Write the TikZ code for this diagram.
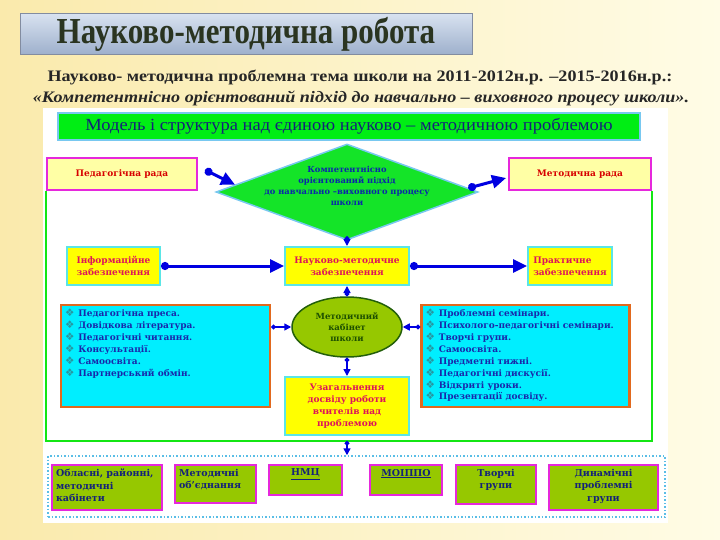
\documentclass[tikz,border=0pt]{standalone}
\usepackage{fontspec}
\usepackage{graphicx}
\setmainfont{Liberation Serif}
\newfontfamily\boxfont{DejaVu Serif}
\newfontfamily\symfont{DejaVu Sans}
\usetikzlibrary{shapes.geometric, arrows.meta, positioning, calc}

\definecolor{bgleft}{RGB}{250,234,172}
\definecolor{bgright}{RGB}{255,252,230}
\definecolor{titletop}{RGB}{216,226,240}
\definecolor{titlebot}{RGB}{158,176,204}
\definecolor{titleline}{RGB}{130,140,160}
\definecolor{titletext}{RGB}{42,52,32}
\definecolor{bannergreen}{RGB}{0,238,20}
\definecolor{bannerline}{RGB}{120,200,240}
\definecolor{navy}{RGB}{20,35,120}
\definecolor{paleyellow}{RGB}{255,255,165}
\definecolor{councilred}{RGB}{215,0,0}
\definecolor{pinkline}{RGB}{230,40,220}
\definecolor{diagreen}{RGB}{20,228,40}
\definecolor{diablue}{RGB}{10,40,170}
\definecolor{arrblue}{RGB}{0,0,225}
\definecolor{boxyellow}{RGB}{255,255,0}
\definecolor{boxcyan}{RGB}{90,230,230}
\definecolor{crimson}{RGB}{220,20,90}
\definecolor{listcyan}{RGB}{0,238,255}
\definecolor{listorange}{RGB}{225,105,30}
\definecolor{listblue}{RGB}{25,40,170}
\definecolor{bulletteal}{RGB}{40,150,160}
\definecolor{cabgreen}{RGB}{150,200,0}
\definecolor{cabline}{RGB}{35,95,10}
\definecolor{cabtext}{RGB}{30,80,0}
\definecolor{framegreen}{RGB}{20,230,20}
\definecolor{dotcyan}{RGB}{90,190,230}

\newcommand{\topbox}[3]{\parbox[c][#2][t]{#1}{#3}}
\newcommand{\bul}{{\symfont\fontsize{10.5}{10}\selectfont\textcolor{bulletteal}{❖}}\hspace{4pt}}

\tikzset{
  titlebox/.style={draw=titleline, top color=titletop, bottom color=titlebot,
    minimum width=452pt, minimum height=40pt, text=titletext,
    font=\bfseries\fontsize{31}{31}\selectfont},
  subline/.style={text=black!85, font=\bfseries\fontsize{16}{16}\selectfont, inner sep=0pt},
  banner/.style={draw=bannerline, line width=1.5pt, fill=bannergreen, text=navy,
    minimum width=582pt, minimum height=27pt, font=\fontsize{17}{17}\selectfont},
  council/.style={draw=pinkline, line width=2pt, fill=paleyellow, text=councilred,
    minimum width=150pt, minimum height=32pt, font=\boxfont\bfseries\fontsize{9}{10}\selectfont},
  dia/.style={diamond, draw=bannerline, line width=1.5pt, fill=diagreen,
    text=diablue, minimum width=262pt, minimum height=96pt, inner sep=0pt,
    font=\boxfont\bfseries\fontsize{8.3}{11}\selectfont},
  support/.style={draw=boxcyan, line width=2pt, fill=boxyellow, text=crimson,
    minimum height=38pt, align=center, font=\boxfont\bfseries\fontsize{9}{12}\selectfont},
  listbox/.style={draw=listorange, line width=2.5pt, fill=listcyan, text=listblue,
    inner sep=4pt, font=\boxfont\bfseries\fontsize{9}{11.9}\selectfont},
  cabinet/.style={ellipse, draw=cabline, line width=1.5pt, fill=cabgreen, text=cabtext,
    minimum width=110pt, minimum height=60pt, inner sep=0pt, align=center,
    font=\boxfont\bfseries\fontsize{8.5}{11}\selectfont},
  basebox/.style={draw=pinkline, line width=2pt, fill=cabgreen, text=navy, anchor=north,
    inner sep=4pt, font=\boxfont\bfseries\fontsize{9.5}{12.5}\selectfont},
  basefr/.style={draw=dotcyan, line width=1.5pt, dotted, minimum width=617pt, minimum height=61pt},
  frame/.style={draw=framegreen, line width=1.8pt},
  bigarr/.style={draw=arrblue, line width=3pt, {Circle[length=8pt]}-{Triangle[length=14pt,width=13pt]}},
  smallarr/.style={draw=arrblue, line width=1.5pt, {Circle[length=4.5pt]}-{Triangle[length=7pt,width=7pt]}}
}

\begin{document}
\begin{tikzpicture}[x=1pt,y=-1pt]
\useasboundingbox (0,0) rectangle (720,540);
% background
\shade[left color=bgleft, right color=bgright] (0,0) rectangle (720,540);
\fill[white] (43,108) rectangle (668,523);

% heading
\node[titlebox] (title) at (246,34) {\scalebox{1}[1.18]{Науково-методична робота}};
\node[subline] (theme) at (360,78) {\scalebox{1.13}[1]{Науково- методична проблемна тема школи на 2011-2012н.р. –2015-2016н.р.:}};
\node[subline, font=\bfseries\itshape\fontsize{16}{16}\selectfont] (idea) at (361,98)
  {\scalebox{1.13}[1]{«Компетентнісно орієнтований підхід до навчально – виховного процесу школи».}};

% model
\node[banner] (banner) at (349,126.5) {\scalebox{1.09}[1]{Модель і структура над єдиною науково – методичною проблемою}};
\node[council] (ped) at (122,174) {Педагогічна рада};
\node[council, minimum width=142pt] (met) at (580,174) {Методична рада};
\node[dia] (dia) at (347,192) {\smash{\makebox[0pt]{\raisebox{4pt}{\parbox[c]{170pt}{\centering Компетентнісно\\орієнтований підхід\\до навчально –виховного процесу\\школи}}}}};

\node[support, minimum width=93pt, align=left] (info) at (113.5,266) {Інформаційне\\забезпечення};
\node[support, minimum width=124pt] (nm) at (347,266) {Науково-методичне\\забезпечення};
\node[support, minimum width=84pt, align=left] (prak) at (570,266) {Практичне\\забезпечення};

\node[cabinet] (cab) at (347,327) {Методичний\\кабінет\\школи};
\node[listbox] (forms) at (165.5,356) {\topbox{201pt}{94pt}{\raggedright
  \bul Педагогічна преса.\\
  \bul Довідкова література.\\
  \bul Педагогічні читання.\\
  \bul Консультації.\\
  \bul Самоосвіта.\\
  \bul Партнерський обмін.}};
\node[listbox] (events) at (525.5,356) {\topbox{200pt}{94pt}{\raggedright
  \bul Проблемні семінари.\\
  \bul Психолого-педагогічні семінари.\\
  \bul Творчі групи.\\
  \bul Самоосвіта.\\
  \bul Предметні тижні.\\
  \bul Педагогічні дискусії.\\
  \bul Відкриті уроки.\\
  \bul Презентації досвіду.}};
\node[support, minimum width=124pt, minimum height=58pt] (uzag) at (347,406)
  {Узагальнення\\досвіду роботи\\вчителів над\\проблемою};

% connectors
\draw[bigarr] ([shift={(7,-4)}]ped.east) -- ($(dia.west)!0.15!(dia.north)$);
\draw[bigarr] ($(dia.east)!0.08!(dia.north)$) -- ([shift={(-2,4)}]met.west);
\draw[bigarr] (info.east) -- (nm.west);
\draw[bigarr] (nm.east) -- (prak.west);
\draw[smallarr] (dia.south) -- (nm.north);
\draw[smallarr] (cab.north) -- (nm.south);
\draw[smallarr] (forms.east |- cab.west) -- (cab.west);
\draw[smallarr] (events.west |- cab.east) -- (cab.east);
\draw[smallarr] (cab.south) -- (uzag.north);

\coordinate (fb) at (347,441);
\draw[frame] (ped.south west) |- (fb) -| (met.south east);

% partners
\node[basefr] (base) at (356.5,486.5) {};
\draw[smallarr] (fb) -- (fb |- base.north);
\node[basebox] (b1) at (107,464) {\topbox{102pt}{37pt}{\raggedright Обласні, районні,\\методичні\\кабінети}};
\node[basebox] (b2) at (215.5,464) {\topbox{73pt}{30pt}{\raggedright Методичні\\об’єднання}};
\node[basebox] (b3) at (305.5,464) {\topbox{65pt}{22pt}{\centering\underline{НМЦ}}};
\node[basebox] (b4) at (406,464) {\topbox{64pt}{22pt}{\centering\underline{МОІППО}}};
\node[basebox] (b5) at (496,464) {\topbox{72pt}{31pt}{\centering Творчі\\групи}};
\node[basebox] (b6) at (603.5,464) {\topbox{101pt}{37pt}{\centering Динамічні\\проблемні\\групи}};
\end{tikzpicture}
\end{document}
